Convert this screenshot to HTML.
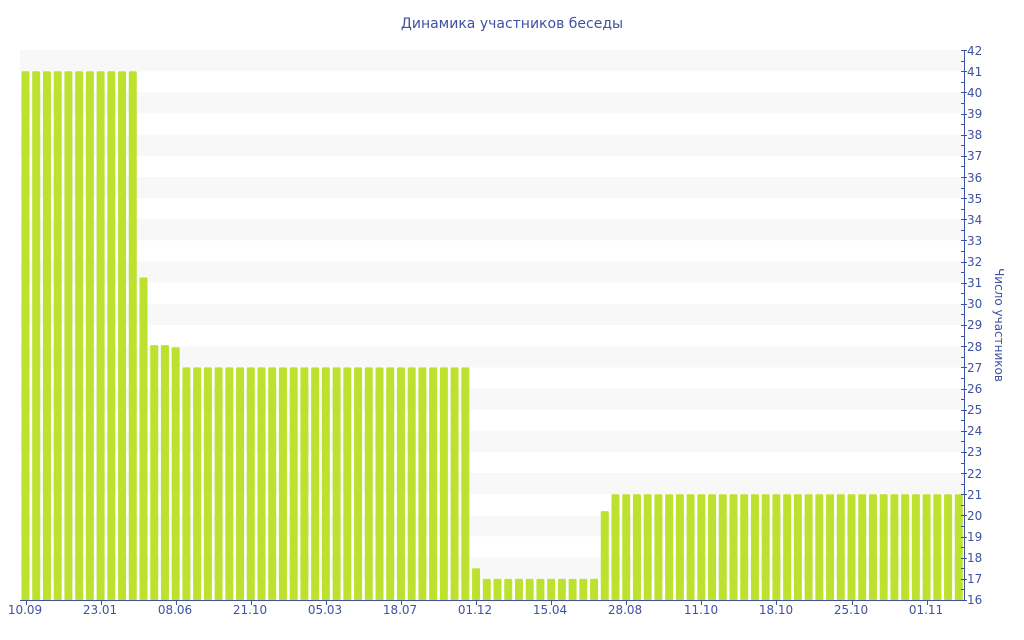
<!DOCTYPE html>
<html><head><meta charset="utf-8"><style>
html,body{margin:0;padding:0;background:#fff;}
svg{display:block;font-family:"DejaVu Sans","Liberation Sans",sans-serif;}
</style></head><body>
<svg id="c" width="1024" height="640" viewBox="0 0 1024 640" xmlns="http://www.w3.org/2000/svg">
<g id="stripes"></g>
<g id="bars"></g>
<g id="axes" stroke="#3d52a1" stroke-width="1"></g>
<text x="512" y="28" text-anchor="middle" font-size="14" fill="#3d52a1">Динамика участников беседы</text>
<text transform="translate(995,325) rotate(90)" text-anchor="middle" font-size="12" fill="#3d52a1">Число участников</text>
<g font-size="12" fill="#3d52a1">
<text x="967" y="55">42</text><text x="967" y="76">41</text><text x="967" y="97">40</text><text x="967" y="118">39</text>
<text x="967" y="139">38</text><text x="967" y="160">37</text><text x="967" y="182">36</text><text x="967" y="203">35</text>
<text x="967" y="224">34</text><text x="967" y="245">33</text><text x="967" y="266">32</text><text x="967" y="287">31</text>
<text x="967" y="308">30</text><text x="967" y="329">29</text><text x="967" y="351">28</text><text x="967" y="372">27</text>
<text x="967" y="393">26</text><text x="967" y="414">25</text><text x="967" y="435">24</text><text x="967" y="456">23</text>
<text x="967" y="478">22</text><text x="967" y="499">21</text><text x="967" y="520">20</text><text x="967" y="541">19</text>
<text x="967" y="562">18</text><text x="967" y="583">17</text><text x="967" y="604">16</text>
</g>
<g font-size="12" fill="#3d52a1" text-anchor="middle">
<text x="25" y="614">10.09</text><text x="100" y="614">23.01</text><text x="175" y="614">08.06</text>
<text x="250" y="614">21.10</text><text x="325" y="614">05.03</text><text x="400" y="614">18.07</text>
<text x="475" y="614">01.12</text><text x="550" y="614">15.04</text><text x="625" y="614">28.08</text>
<text x="701" y="614">11.10</text><text x="776" y="614">18.10</text><text x="851" y="614">25.10</text>
<text x="926" y="614">01.11</text>
</g>
</svg>
<script>
var NS="http://www.w3.org/2000/svg";
function Y(v){return 600-(v-16)*21.15;}
function el(p,n,a){var e=document.createElementNS(NS,n);for(var k in a)e.setAttribute(k,a[k]);p.appendChild(e);return e;}
var st=document.getElementById('stripes');
for(var v=17;v<42;v+=2){el(st,'rect',{x:20,y:Y(v+1),width:944,height:21.15,fill:'#f8f8f8'});}
var vals=[];
for(var i=0;i<88;i++){var v;
 if(i<=10)v=41;else if(i==11)v=31.25;else if(i<=13)v=28.05;else if(i==14)v=27.95;
 else if(i<=41)v=27;else if(i==42)v=17.5;else if(i<=53)v=17;else if(i==54)v=20.2;else v=21;
 vals.push(v);}
var b=document.getElementById('bars'),p=944/88;
vals.forEach(function(v,i){el(b,'rect',{x:(20+i*p+1.5).toFixed(2),y:Y(v).toFixed(2),width:8,height:(600-Y(v)).toFixed(2),fill:'#bde12f',rx:1});});
var ax=document.getElementById('axes');
el(ax,'line',{x1:964.5,y1:50,x2:964.5,y2:601});
el(ax,'line',{x1:20,y1:600.5,x2:965,y2:600.5});
for(var v=16;v<=42;v++){var y=Math.round(Y(v))+0.5;el(ax,'line',{x1:961,y1:y,x2:967,y2:y});
 if(v<42){var y2=Math.round(Y(v+0.5))+0.5;el(ax,'line',{x1:961,y1:y2,x2:964,y2:y2});}}
for(var i=0;i<88;i+=7){var x=Math.round(20+i*p+5.5)+0.5;el(ax,'line',{x1:x,y1:600,x2:x,y2:605});}
</script>
</body></html>
